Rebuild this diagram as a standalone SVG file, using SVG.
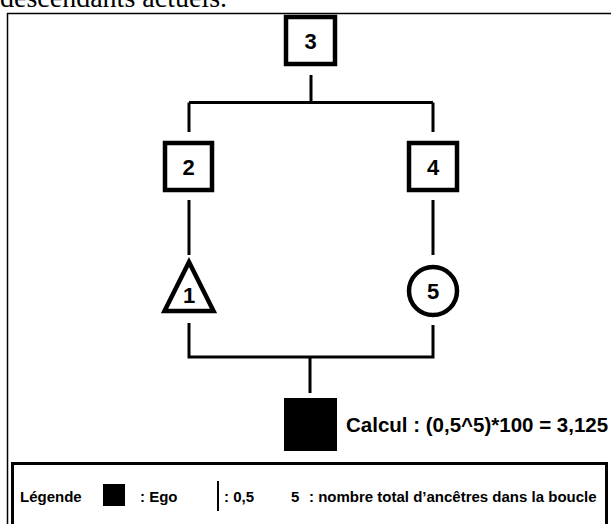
<svg xmlns="http://www.w3.org/2000/svg" width="611" height="524" viewBox="0 0 611 524">
  <style>
    .box { fill: #fff; stroke: #000; stroke-width: 4.5; }
    .lbl { font-family: "Liberation Sans", Arial, sans-serif; font-weight: bold; font-size: 22px; text-anchor: middle; fill: #000; }
    .link { stroke: #000; stroke-width: 3; fill: none; }
    .leg { font-family: "Liberation Sans", Arial, sans-serif; font-weight: bold; font-size: 15px; fill: #000; }
  </style>
  <rect width="611" height="524" fill="#fff"/>
  <!-- caption line from the surrounding page -->
  <text x="0" y="7" font-family="Liberation Serif, 'Times New Roman', serif" font-size="28" fill="#000">descendants actuels.</text>
  <!-- outer frame -->
  <rect x="7.5" y="13.5" width="620" height="530" fill="none" stroke="#000" stroke-width="1.5"/>

  <g id="connectors">
    <path class="link" d="M311 75 V102.5 M189 102.5 H433 M189 102.5 V132 M433 102.5 V132"/>
    <path class="link" d="M189 200 V255 M433 200 V255"/>
    <path class="link" d="M189 323 V357 H433 V325 M310 357 V393"/>
  </g>

  <g id="node-3">
    <rect class="box" x="286" y="17" width="49" height="47"/>
    <text class="lbl" x="310.5" y="48.5">3</text>
  </g>
  <g id="node-2">
    <rect class="box" x="165" y="143" width="47" height="47"/>
    <text class="lbl" x="188.5" y="174.5">2</text>
  </g>
  <g id="node-4">
    <rect class="box" x="409" y="143" width="48" height="47"/>
    <text class="lbl" x="433" y="174.5">4</text>
  </g>
  <g id="node-1">
    <polygon class="box" points="189,262 164.5,311 213.5,311"/>
    <text class="lbl" x="189" y="303">1</text>
  </g>
  <g id="node-5">
    <circle class="box" cx="433" cy="291" r="24"/>
    <text class="lbl" x="433" y="299">5</text>
  </g>
  <g id="ego">
    <rect x="284" y="398" width="53" height="53" fill="#000"/>
    <text x="346" y="432" font-family="Liberation Sans, Arial, sans-serif" font-weight="bold" font-size="20.5" fill="#000">Calcul : (0,5^5)*100 = 3,125</text>
  </g>

  <g id="legend">
    <rect x="12.5" y="463.5" width="594" height="80" fill="none" stroke="#000" stroke-width="3"/>
    <text class="leg" x="20" y="502">Légende</text>
    <rect x="103" y="484" width="22" height="22" fill="#000"/>
    <text class="leg" x="140" y="502">: Ego</text>
    <line x1="218" y1="481" x2="218" y2="511" stroke="#000" stroke-width="2"/>
    <text class="leg" x="224" y="502">: 0,5</text>
    <text class="leg" x="291" y="502">5</text>
    <text class="leg" x="309" y="502">: nombre total d’ancêtres dans la boucle</text>
  </g>
</svg>
